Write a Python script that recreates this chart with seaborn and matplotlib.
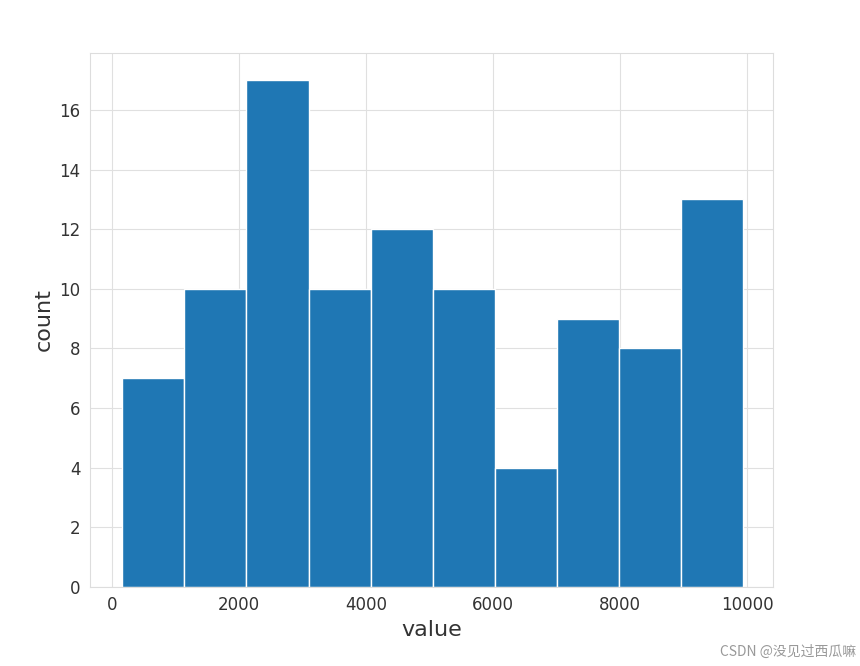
import numpy as np
import matplotlib.pyplot as plt
import seaborn as sns

# histogram
bin_edges = [157, 1135, 2113, 3091, 4069, 5047, 6025, 7003, 7981, 8959, 9937]
counts = [7, 10, 17, 10, 12, 10, 4, 9, 8, 13]
centers = [(a + b) / 2 for a, b in zip(bin_edges[:-1], bin_edges[1:])]

sns.set_style("whitegrid", {"grid.color": "#e0e0e0", "axes.edgecolor": "#dddddd"})
plt.rcParams['font.family'] = ['DejaVu Sans', 'Noto Sans CJK SC']

fig = plt.figure(figsize=(8.6, 6.66), dpi=100)
ax = fig.add_axes([0.105, 0.119, 0.794, 0.801])
sns.histplot(x=centers, weights=counts, bins=bin_edges, color="#1f77b4",
             alpha=1, edgecolor="white", linewidth=1, ax=ax)
ax.set_xlim(-346, 10409)
ax.set_ylim(0, 17.9)
ax.set_xlabel("value", fontsize=16, color="#333333")
ax.set_ylabel("count", fontsize=16, color="#333333")
ax.tick_params(labelsize=12, colors="#333333")
ax.set_yticks(range(0, 17, 2))
fig.text(0.995, 0.01, "CSDN @没见过西瓜嘛", ha="right", va="bottom",
         fontsize=10, color="#999999", family=['Noto Sans CJK SC', 'DejaVu Sans'])
fig.savefig("out.png", dpi=100)
